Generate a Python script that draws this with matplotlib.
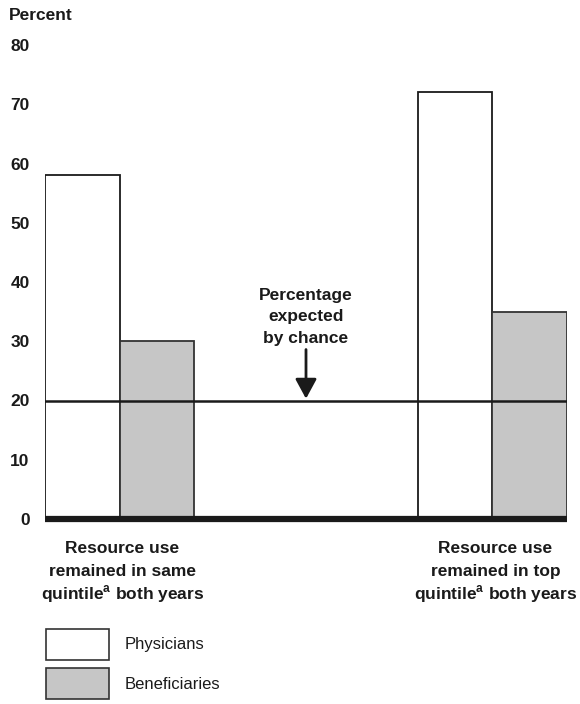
import matplotlib
matplotlib.use('Agg')
import matplotlib.pyplot as plt
from matplotlib.patches import Patch
import numpy as np

plt.rcParams['font.family'] = ['Liberation Sans', 'DejaVu Sans']
plt.rcParams['mathtext.fontset'] = 'custom'
plt.rcParams['mathtext.rm'] = 'Liberation Sans'
plt.rcParams['mathtext.bf'] = 'Liberation Sans:bold'

groups = [['Resource use', 'remained in same', 'quintile$^{\\mathbf{a}}$ both years'],
          ['Resource use', 'remained in top', 'quintile$^{\\mathbf{a}}$ both years']]
physicians = [58, 72]
beneficiaries = [30, 35]
chance = 20
chance_label = ['Percentage', 'expected', 'by chance']
yticks = [0, 10, 20, 30, 40, 50, 60, 70, 80]

ink = '#1a1a1a'

fig = plt.figure(figsize=(5.8, 7.04), dpi=100)
ax = fig.add_axes([45 / 580, 185 / 704, 522 / 580, 474 / 704])

x = np.arange(len(groups))
w = 0.2
ax.bar(x - w / 2, physicians, w, color='white', edgecolor=ink, linewidth=1.3, zorder=2)
ax.bar(x + w / 2, beneficiaries, w, color='#c6c6c6', edgecolor='#333333', linewidth=1.3, zorder=2)

ax.axhline(chance, color=ink, linewidth=1.8, zorder=3)
ax.axhline(0, color=ink, linewidth=4.5, zorder=4, clip_on=False, solid_capstyle='butt')

ax.set_xlim(-0.2, 1.2)
ax.set_ylim(0, 80)
ax.set_yticks(yticks)
ax.set_yticklabels([str(t) for t in yticks], fontsize=12.5, fontweight='bold', color=ink)
ax.tick_params(axis='y', length=0, pad=11)
ax.set_xticks([])
for s in ax.spines.values():
    s.set_visible(False)

fig.text(9 / 580, 1 - 15 / 704, 'Percent', fontsize=12.5, fontweight='bold',
         color=ink, ha='left', va='center')

# category labels under the groups, one line at a time
for xi, lines in zip(x, groups):
    for k, line in enumerate(lines):
        ax.text(xi + 0.008, -5.0 - k * 3.8, line, ha='center', va='center',
                fontsize=12.5, fontweight='bold', color=ink)

# chance annotation
for k, line in enumerate(chance_label):
    ax.text(0.5, 37.7 - k * 3.6, line, ha='center', va='center',
            fontsize=12.5, fontweight='bold', color=ink)
ax.annotate('', xy=(0.5, chance + 0.3), xytext=(0.5, 28.6),
            arrowprops=dict(arrowstyle='-|>,head_width=0.65,head_length=1.2',
                            color=ink, lw=2.0, shrinkA=0, shrinkB=0))

handles = [Patch(facecolor='white', edgecolor='#333333', linewidth=1.2),
           Patch(facecolor='#c6c6c6', edgecolor='#333333', linewidth=1.2)]
fig.legend(handles, ['Physicians', 'Beneficiaries'], loc='upper left',
           bbox_to_anchor=(46 / 580, 1 - 629 / 704), frameon=False,
           fontsize=12, handlelength=3.78, handleheight=2.45,
           labelspacing=0.52, handletextpad=0.95, borderpad=0, borderaxespad=0,
           labelcolor=ink)

fig.savefig('out.png', dpi=100)
